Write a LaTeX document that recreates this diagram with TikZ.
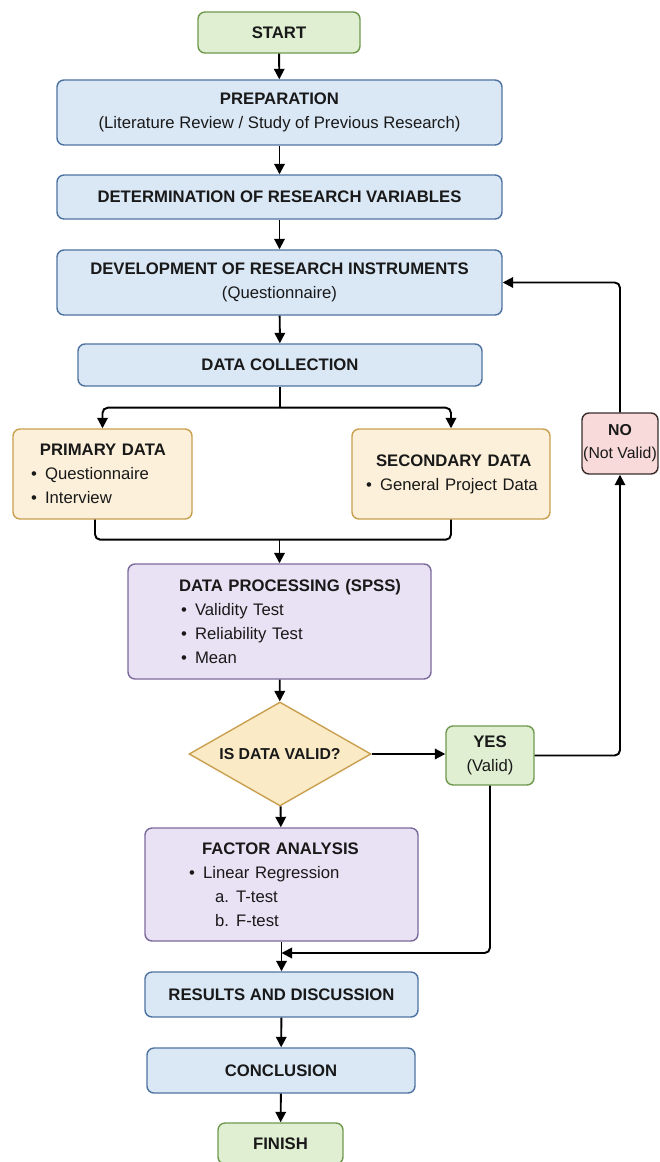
\documentclass[tikz,border=0pt]{standalone}
\usepackage{fontspec}
\setmainfont{Liberation Sans}
\usetikzlibrary{arrows.meta,shapes.geometric}
\definecolor{blueFill}{HTML}{DAE8F6}
\definecolor{blueLine}{HTML}{4F73A0}
\definecolor{greenFill}{HTML}{E0EFD2}
\definecolor{greenLine}{HTML}{6F9A4E}
\definecolor{sandFill}{HTML}{FCF0DA}
\definecolor{sandLine}{HTML}{C9A04F}
\definecolor{dimondFill}{HTML}{FBEAC6}
\definecolor{lilacFill}{HTML}{E9E2F4}
\definecolor{lilacLine}{HTML}{7B6A9C}
\definecolor{roseFill}{HTML}{F9DADA}
\definecolor{roseLine}{HTML}{3A2E2E}
\newcommand{\bul}[1]{\makebox[8pt][l]{\textbullet}#1}

\begin{document}
\begin{tikzpicture}[
  every node/.style={font=\fontsize{9.5}{13.7}\selectfont, text=black!90},
  box/.style={rectangle, rounded corners=4pt, draw=#1Line, fill=#1Fill, line width=0.8pt, inner sep=0pt, align=center},
  flow/.style={-{Triangle[length=2.1mm,width=2.1mm]}, line width=1.1pt, rounded corners=3pt},
  link/.style={line width=1.1pt, rounded corners=3pt}
]
\useasboundingbox (0,0) rectangle (13.18,-23.24);

\node[box=green, minimum width=3.24cm, minimum height=0.82cm] (start) at (5.58,-0.65) {\textbf{START}};
\node[box=blue, minimum width=8.9cm, minimum height=1.3cm] (prep) at (5.59,-2.25) {\textbf{PREPARATION}\\(Literature Review / Study of Previous Research)};
\node[box=blue, minimum width=8.9cm, minimum height=0.88cm] (determ) at (5.59,-3.94) {\textbf{DETERMINATION OF RESEARCH VARIABLES}};
\node[box=blue, minimum width=8.9cm, minimum height=1.3cm] (dev) at (5.59,-5.65) {\textbf{DEVELOPMENT OF RESEARCH INSTRUMENTS}\\(Questionnaire)};
\node[box=blue, minimum width=8.08cm, minimum height=0.84cm] (coll) at (5.6,-7.3) {\textbf{DATA COLLECTION}};
\node[box=sand, minimum height=1.8cm, text width=3.58cm, align=left] (prim) at (2.05,-9.48) {\hspace*{0.54cm}\textbf{PRIMARY DATA}\\\hspace*{0.36cm}\bul{Questionnaire}\\\hspace*{0.36cm}\bul{Interview}};
\node[box=sand, minimum height=1.8cm, text width=3.96cm, align=left] (sec) at (9.02,-9.48) {\hspace*{0.48cm}\textbf{SECONDARY DATA}\\\hspace*{0.28cm}\bul{General Project Data}};
\node[box=rose, minimum width=1.52cm, minimum height=1.22cm, font=\fontsize{9}{13}\selectfont] (no) at (12.4,-8.87) {\textbf{NO}\\(Not Valid)};
\node[box=lilac, minimum height=2.3cm, text width=6.06cm, align=left] (dp) at (5.59,-12.43) {\hspace*{1.02cm}\textbf{DATA PROCESSING (SPSS)}\\\hspace*{1.06cm}\bul{Validity Test}\\\hspace*{1.06cm}\bul{Reliability Test}\\\hspace*{1.06cm}\bul{Mean}};
\node[diamond, aspect=1.75, draw=sandLine, fill=dimondFill, line width=0.8pt, inner sep=0pt, minimum width=3.64cm, minimum height=2.08cm, font=\fontsize{9}{13}\selectfont] (valid) at (5.6,-15.08) {\textbf{IS DATA VALID?}};
\node[box=green, minimum width=1.76cm, minimum height=1.18cm] (yes) at (9.8,-15.11) {\textbf{YES}\\(Valid)};
\node[box=lilac, minimum height=2.26cm, text width=5.46cm, align=left] (fa) at (5.63,-17.69) {\hspace*{1.14cm}\textbf{FACTOR ANALYSIS}\\\hspace*{0.88cm}\bul{Linear Regression}\\\hspace*{1.4cm}\makebox[12pt][l]{a.}T-test\\\hspace*{1.4cm}\makebox[12pt][l]{b.}F-test};
\node[box=blue, minimum width=5.46cm, minimum height=0.9cm] (res) at (5.63,-19.89) {\textbf{RESULTS AND DISCUSSION}};
\node[box=blue, minimum width=5.36cm, minimum height=0.9cm] (conc) at (5.62,-21.41) {\textbf{CONCLUSION}};
\node[box=green, minimum width=2.5cm, minimum height=0.82cm] (fin) at (5.61,-22.87) {\textbf{FINISH}};
\coordinate (join) at (5.63,-19.06);

\draw[flow] (start) -- (prep);
\draw[flow] (prep) -- (determ);
\draw[flow] (determ) -- (dev);
\draw[flow] (dev) -- (coll);
\draw[link] (coll.south) -- ++(0,-0.42) coordinate (split);
\draw[flow] (split) -| (prim.north);
\draw[flow] (split) -| (sec.north);
\draw[link] ([xshift=-0.15cm]prim.south) -- ++(0,-0.4) coordinate (merge) -- (merge -| sec.south) -- (sec.south);
\draw[flow] (merge -| dp.north) -- (dp.north);
\draw[flow] (dp) -- (valid);
\draw[flow] (valid) -- (fa);
\draw[flow] (valid.east) -- (valid.east -| yes.west);
\draw[flow] (yes.east) -| (no.south);
\draw[flow] (no.north) |- (dev.east);
\draw[flow] (yes.south) |- (join);
\draw[flow] (fa) -- (res);
\draw[flow] (res) -- (conc);
\draw[flow] (conc) -- (fin);
\end{tikzpicture}
\end{document}
